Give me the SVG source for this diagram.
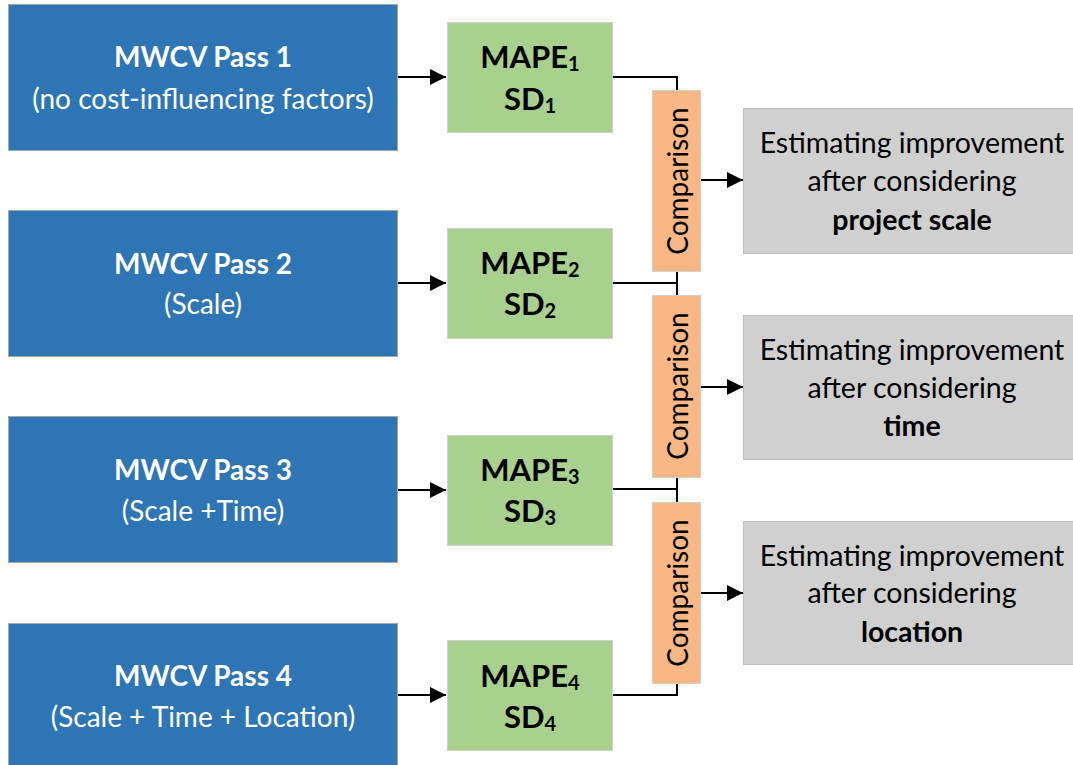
<svg xmlns="http://www.w3.org/2000/svg" width="1073" height="765" viewBox="0 0 1073 765">
  <style>
    .pass { fill: #2E75B6; stroke: #A6A6A6; stroke-width: 1; }
    .metric { fill: #A9D18E; stroke: #D0D0D0; stroke-width: 1; }
    .cmp { fill: #F8B784; stroke: #D0D0D0; stroke-width: 1; }
    .result { fill: #D0D0D0; stroke: #BFBFBF; stroke-width: 1; }
    text { font-family: "Lato", "Liberation Sans", sans-serif; text-anchor: middle; dominant-baseline: central; }
    .pt { fill: #FFFFFF; font-size: 28px; }
    .b { font-weight: bold; }
    .mt { fill: #000000; font-size: 31px; font-weight: bold; }
    .sub { font-size: 20px; }
    .ct { fill: #000000; font-size: 28px; }
    .rt { fill: #000000; font-size: 28.5px; }
    .wire { fill: none; stroke: #000000; stroke-width: 2; }
  </style>
  <defs>
    <marker id="arrow" viewBox="0 0 10 10" refX="10" refY="5" markerWidth="16" markerHeight="16" markerUnits="userSpaceOnUse" orient="auto">
      <path d="M0,0 L10,5 L0,10 z" fill="#000000"/>
    </marker>
  </defs>

  <!-- connectors -->
  <g id="connectors">
    <line class="wire" x1="397" y1="77" x2="446" y2="77" marker-end="url(#arrow)"/>
    <line class="wire" x1="397" y1="283" x2="446" y2="283" marker-end="url(#arrow)"/>
    <line class="wire" x1="397" y1="490" x2="446" y2="490" marker-end="url(#arrow)"/>
    <line class="wire" x1="397" y1="695" x2="446" y2="695" marker-end="url(#arrow)"/>
    <polyline class="wire" points="613,77 677,77 677,90"/>
    <polyline class="wire" points="613,283 677,283"/>
    <line class="wire" x1="677" y1="272" x2="677" y2="295"/>
    <polyline class="wire" points="613,489 677,489"/>
    <line class="wire" x1="677" y1="477" x2="677" y2="503"/>
    <polyline class="wire" points="613,695 677,695 677,683"/>
    <line class="wire" x1="701" y1="180" x2="743" y2="180" marker-end="url(#arrow)"/>
    <line class="wire" x1="701" y1="387" x2="743" y2="387" marker-end="url(#arrow)"/>
    <line class="wire" x1="701" y1="593" x2="743" y2="593" marker-end="url(#arrow)"/>
  </g>

  <!-- MWCV passes -->
  <g id="pass1">
    <rect class="pass" x="8.5" y="4.5" width="389" height="146"/>
    <text class="pt b" x="203" y="56">MWCV Pass 1</text>
    <text class="pt" x="203" y="98">(no cost-influencing factors)</text>
  </g>
  <g id="pass2">
    <rect class="pass" x="8.5" y="210.5" width="389" height="146"/>
    <text class="pt b" x="203" y="263">MWCV Pass 2</text>
    <text class="pt" x="203" y="303">(Scale)</text>
  </g>
  <g id="pass3">
    <rect class="pass" x="8.5" y="416.5" width="389" height="146"/>
    <text class="pt b" x="203" y="469">MWCV Pass 3</text>
    <text class="pt" x="203" y="510">(Scale +Time)</text>
  </g>
  <g id="pass4">
    <rect class="pass" x="8.5" y="623.5" width="389" height="146"/>
    <text class="pt b" x="203" y="675">MWCV Pass 4</text>
    <text class="pt" x="203" y="716">(Scale + Time + Location)</text>
  </g>

  <!-- error metrics -->
  <g id="metric1">
    <rect class="metric" x="447.5" y="22.5" width="165" height="110"/>
    <text class="mt" x="530" y="56">MAPE<tspan class="sub" dy="7">1</tspan></text>
    <text class="mt" x="530" y="98">SD<tspan class="sub" dy="7">1</tspan></text>
  </g>
  <g id="metric2">
    <rect class="metric" x="447.5" y="228.5" width="165" height="110"/>
    <text class="mt" x="530" y="262">MAPE<tspan class="sub" dy="7">2</tspan></text>
    <text class="mt" x="530" y="303">SD<tspan class="sub" dy="7">2</tspan></text>
  </g>
  <g id="metric3">
    <rect class="metric" x="447.5" y="435.5" width="165" height="110"/>
    <text class="mt" x="530" y="469">MAPE<tspan class="sub" dy="7">3</tspan></text>
    <text class="mt" x="530" y="510">SD<tspan class="sub" dy="7">3</tspan></text>
  </g>
  <g id="metric4">
    <rect class="metric" x="447.5" y="640.5" width="165" height="110"/>
    <text class="mt" x="530" y="675">MAPE<tspan class="sub" dy="7">4</tspan></text>
    <text class="mt" x="530" y="716">SD<tspan class="sub" dy="7">4</tspan></text>
  </g>

  <!-- comparisons -->
  <g id="comparison1">
    <rect class="cmp" x="652.5" y="90.5" width="48" height="181"/>
    <text class="ct" transform="translate(677,181) rotate(-90)">Comparison</text>
  </g>
  <g id="comparison2">
    <rect class="cmp" x="652.5" y="295.5" width="48" height="182"/>
    <text class="ct" transform="translate(677,386) rotate(-90)">Comparison</text>
  </g>
  <g id="comparison3">
    <rect class="cmp" x="652.5" y="502.5" width="48" height="181"/>
    <text class="ct" transform="translate(677,593) rotate(-90)">Comparison</text>
  </g>

  <!-- improvement estimates -->
  <g id="result1">
    <rect class="result" x="743.5" y="108.5" width="340" height="145"/>
    <text class="rt" x="912" y="142">Estimating improvement</text>
    <text class="rt" x="912" y="180">after considering</text>
    <text class="rt b" x="912" y="219">project scale</text>
  </g>
  <g id="result2">
    <rect class="result" x="743.5" y="315.5" width="340" height="144"/>
    <text class="rt" x="912" y="349">Estimating improvement</text>
    <text class="rt" x="912" y="387">after considering</text>
    <text class="rt b" x="912" y="425">time</text>
  </g>
  <g id="result3">
    <rect class="result" x="743.5" y="521.5" width="340" height="143"/>
    <text class="rt" x="912" y="555">Estimating improvement</text>
    <text class="rt" x="912" y="592">after considering</text>
    <text class="rt b" x="912" y="631">location</text>
  </g>
</svg>
